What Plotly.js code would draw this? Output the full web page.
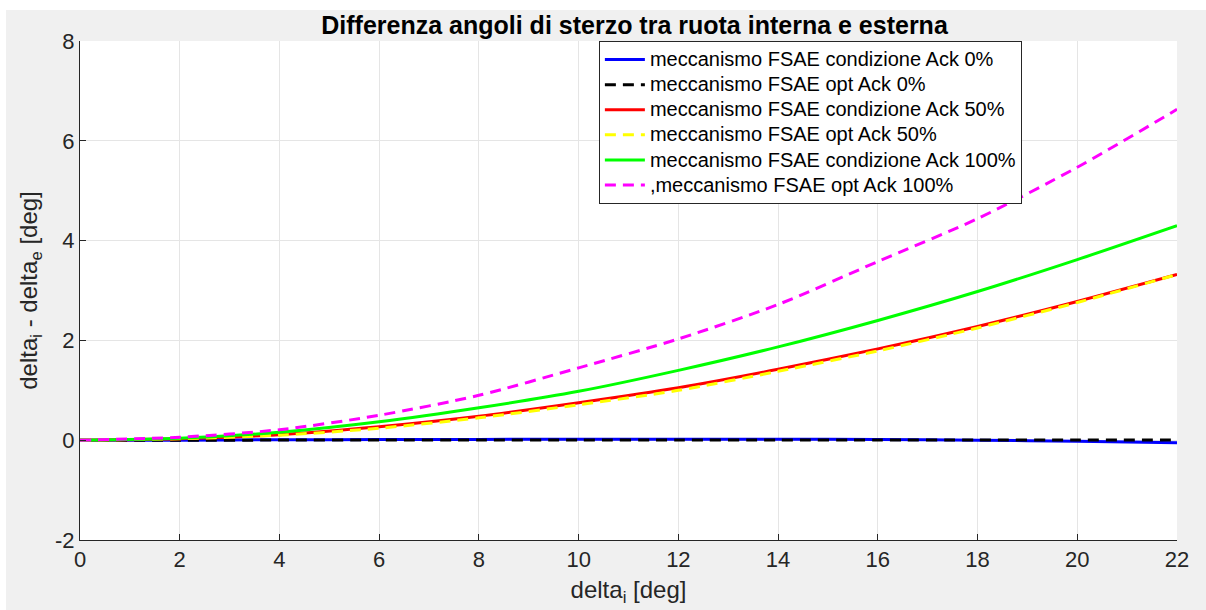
<!DOCTYPE html>
<html>
<head>
<meta charset="utf-8">
<script src="https://cdn.plot.ly/plotly-3.0.1.min.js"></script>
<style>
html,body{margin:0;padding:0;background:#ffffff;}
#chart{position:absolute;left:6px;top:10px;width:1200px;height:600px;}
</style>
</head>
<body>
<div id="chart"></div>
<script>
const deltaI = [0, 2, 4, 6, 8, 10, 12, 14, 16, 18, 20, 22];
const condAck0   = [0, 0.0, 0.01, 0.012, 0.015, 0.02, 0.02, 0.02, 0.012, 0.0, -0.02, -0.05];
const optAck0    = [0, 0.0, 0.002, 0.004, 0.005, 0.006, 0.006, 0.006, 0.006, 0.005, 0.005, 0.005];
const condAck50  = [0, 0.03, 0.11, 0.27, 0.48, 0.75, 1.05, 1.42, 1.83, 2.28, 2.78, 3.32];
const optAck50   = [0, 0.03, 0.10, 0.24, 0.45, 0.71, 1.00, 1.38, 1.79, 2.25, 2.76, 3.32];
const condAck100 = [0, 0.04, 0.16, 0.37, 0.65, 0.98, 1.40, 1.87, 2.40, 2.98, 3.62, 4.30];
const optAck100  = [0, 0.06, 0.21, 0.50, 0.90, 1.45, 2.03, 2.72, 3.58, 4.44, 5.47, 6.63];
const names = [
  'meccanismo FSAE condizione Ack 0%',
  'meccanismo FSAE opt Ack 0%',
  'meccanismo FSAE condizione Ack 50%',
  'meccanismo FSAE opt Ack 50%',
  'meccanismo FSAE condizione Ack 100%',
  ',meccanismo FSAE opt Ack 100%'
];
const xTicks = [0, 2, 4, 6, 8, 10, 12, 14, 16, 18, 20, 22];
const yTicks = [-2, 0, 2, 4, 6, 8];

const dashStyle = '11px,7px';
const lbl = s => '<span style="font-size:20px">' + s + '</span>';
const traces = [
  {y: condAck0,   name: lbl(names[0]), line: {color: '#0000ff', width: 3}},
  {y: optAck0,    name: lbl(names[1]), line: {color: '#000000', width: 3, dash: dashStyle}},
  {y: condAck50,  name: lbl(names[2]), line: {color: '#ff0000', width: 3}},
  {y: optAck50,   name: lbl(names[3]), line: {color: '#ffff00', width: 3, dash: dashStyle}},
  {y: condAck100, name: lbl(names[4]), line: {color: '#00ff00', width: 3}},
  {y: optAck100,  name: lbl(names[5]), line: {color: '#ff00ff', width: 3, dash: dashStyle}}
].map(t => Object.assign({x: deltaI, type: 'scatter', mode: 'lines'}, t));
traces.forEach(t => { t.line.shape = 'spline'; t.line.smoothing = 0.8; });

const font = 'Liberation Sans, Arial, Helvetica, sans-serif';
const layout = {
  width: 1200, height: 600,
  paper_bgcolor: '#f0f0f0',
  plot_bgcolor: '#ffffff',
  margin: {l: 74, r: 29, t: 31, b: 70},
  font: {family: font, color: '#262626'},
  title: {
    text: '<b>Differenza angoli di sterzo tra ruota interna e esterna</b>',
    font: {family: font, size: 25, color: '#000000'},
    x: 0.5055, xref: 'paper', xanchor: 'center', y: 0.99, yanchor: 'top'
  },
  xaxis: {
    range: [0, 22], tickvals: xTicks, ticktext: xTicks.map(String),
    showgrid: true, gridcolor: '#e5e5e5', gridwidth: 1,
    zeroline: false, showline: true, linecolor: '#262626', linewidth: 1,
    ticks: 'inside', ticklen: 6, tickcolor: '#262626',
    tickfont: {size: 22, color: '#262626'},
    title: {text: 'delta<sub>i</sub> [deg]', font: {size: 24, color: '#262626'}, standoff: 9}
  },
  yaxis: {
    range: [-2, 8], tickvals: yTicks, ticktext: yTicks.map(String),
    showgrid: true, gridcolor: '#e5e5e5', gridwidth: 1,
    zeroline: false, showline: true, linecolor: '#262626', linewidth: 1,
    ticks: 'inside', ticklen: 6, tickcolor: '#262626',
    tickfont: {size: 22, color: '#262626'},
    title: {text: 'delta<sub>i</sub> - delta<sub>e</sub> [deg]', font: {size: 24, color: '#262626'}, standoff: 10}
  },
  showlegend: true,
  legend: {
    x: 0.473, xanchor: 'left', y: 1, yanchor: 'top',
    bgcolor: '#ffffff', bordercolor: '#262626', borderwidth: 1,
    font: {family: font, size: 17, color: '#000000'},
    itemwidth: 40,
    tracegroupgap: 0
  }
};
Plotly.newPlot('chart', traces, layout, {displayModeBar: false, staticPlot: true});
</script>
</body>
</html>
